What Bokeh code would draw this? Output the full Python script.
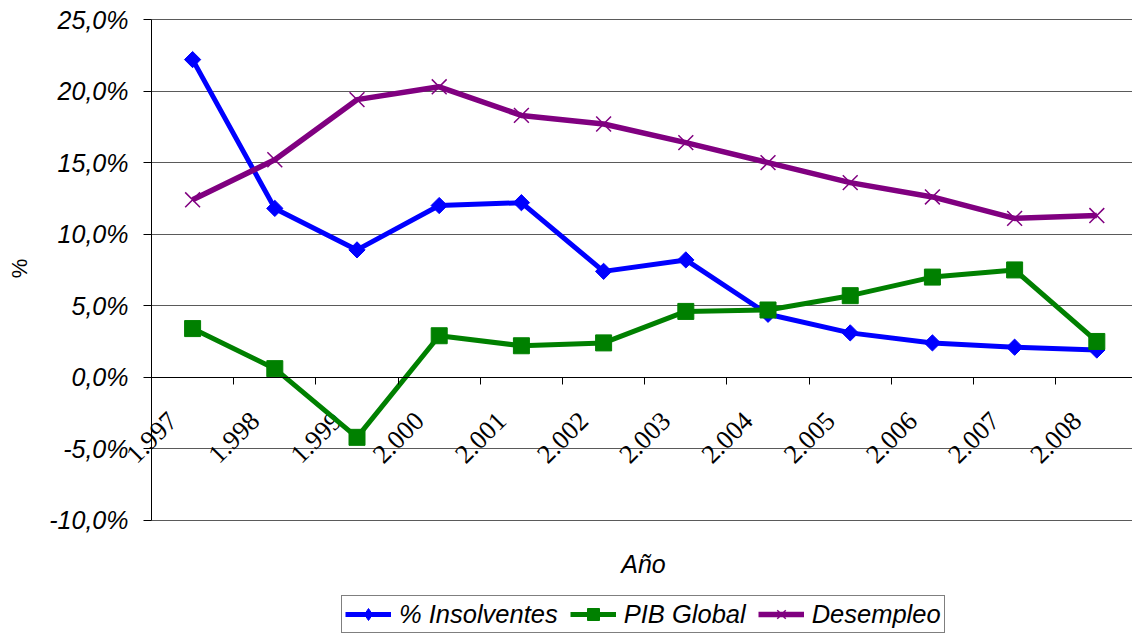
import numpy as np
from bokeh.plotting import figure
from bokeh.models import Range1d, FixedTicker, Legend, LegendItem, Label
from bokeh.embed import file_html
from bokeh.resources import INLINE

# Years (category labels) and the three series, in percent
years = ["1.997", "1.998", "1.999", "2.000", "2.001", "2.002",
         "2.003", "2.004", "2.005", "2.006", "2.007", "2.008"]
insolventes = [22.2, 11.8, 8.9, 12.0, 12.2, 7.4, 8.2, 4.4, 3.1, 2.4, 2.1, 1.9]
pib_global = [3.4, 0.6, -4.2, 2.9, 2.2, 2.4, 4.6, 4.7, 5.7, 7.0, 7.5, 2.5]
desempleo = [12.4, 15.2, 19.4, 20.3, 18.3, 17.7, 16.4, 15.0, 13.6, 12.6, 11.1, 11.3]

y_ticks = [-10, -5, 0, 5, 10, 15, 20, 25]
y_tick_labels = ["-10,0%", "-5,0%", "0,0%", "5,0%", "10,0%", "15,0%", "20,0%", "25,0%"]

FONT = "Liberation Sans"
BLUE, GREEN, PURPLE = "#0000FF", "#008000", "#800080"

x = np.arange(len(years))
boundaries = list(x[:-1] + 0.5)
x_first, x_last = -0.5, len(years) - 0.5

# The frame covers the whole canvas; both axes are pinned inside it so
# that the titles and the legend can be placed freely around the chart.
p = figure(width=1132, height=633,
           x_range=Range1d(-2.337, 11.434), y_range=Range1d(-17.91, 26.33),
           output_backend="svg", toolbar_location=None,
           min_border=0, outline_line_color=None,
           background_fill_color="white")

# horizontal grid, limited to the plotting area
p.xgrid.visible = False
p.ygrid.ticker = FixedTicker(ticks=y_ticks)
p.ygrid.cross_bounds = (x_first, x_last)
p.ygrid.grid_line_color = "#5a5a5a"
p.ygrid.grid_line_width = 1

# y axis
yax = p.yaxis[0]
yax.fixed_location = x_first
yax.bounds = (min(y_ticks), max(y_ticks))
yax.ticker = FixedTicker(ticks=y_ticks)
yax.major_label_overrides = dict(zip(y_ticks, y_tick_labels))
yax.axis_line_color = "black"
yax.major_tick_line_color = "black"
yax.major_tick_out = 8
yax.major_tick_in = 0
yax.minor_tick_out = 0
yax.minor_tick_in = 0
yax.major_label_standoff = 15
yax.major_label_text_font = FONT
yax.major_label_text_font_style = "italic"
yax.major_label_text_font_size = "25px"
yax.major_label_text_color = "black"

# x axis sitting on the zero line, with ticks between the categories
xax = p.xaxis[0]
xax.fixed_location = 0
xax.bounds = (x_first, x_last)
xax.ticker = FixedTicker(ticks=[], minor_ticks=boundaries)
xax.axis_line_color = "black"
xax.major_tick_out = 0
xax.major_tick_in = 0
xax.minor_tick_out = 7
xax.minor_tick_in = 0
xax.minor_tick_line_color = "black"

# slanted year labels under the zero line
p.text(x=x, y=np.zeros(len(x)), text=years, angle=np.pi / 4,
       x_offset=-20, y_offset=39, text_align="right", text_baseline="middle",
       text_font=FONT, text_font_size="26.5px", text_color="black")

# series
l1 = p.line(x, insolventes, line_color=BLUE, line_width=5)
# small diamonds used as the legend key; covered by the rotated squares below
k1 = p.scatter(x, insolventes, marker="diamond", size=9,
               fill_color=BLUE, line_color=BLUE)
m1 = p.scatter(x, insolventes, marker="square", angle=np.pi / 4, size=11.5,
               fill_color=BLUE, line_color=BLUE)
l2 = p.line(x, pib_global, line_color=GREEN, line_width=5)
m2 = p.scatter(x, pib_global, marker="square", size=16,
               fill_color=GREEN, line_color=GREEN)
l3 = p.line(x, desempleo, line_color=PURPLE, line_width=5.5)
m3 = p.scatter(x, desempleo, marker="x", size=21,
               line_color=PURPLE, line_width=1.5)

legend = Legend(items=[
    LegendItem(label="% Insolventes", renderers=[l1, k1]),
    LegendItem(label="PIB Global", renderers=[l2, m2]),
    LegendItem(label="Desempleo", renderers=[l3, m3]),
], location=(341, 0), orientation="horizontal",
    label_text_font=FONT, label_text_font_style="italic",
    label_text_font_size="25.5px", label_text_color="black",
    border_line_color="black", border_line_width=1,
    background_fill_color="white", background_fill_alpha=1,
    padding=3, spacing=12, label_standoff=8, margin=0,
    glyph_width=46, glyph_height=30, label_height=28)
p.add_layout(legend, "center")

p.add_layout(Label(x=643, y=70, x_units="screen", y_units="screen",
                   text="Año", text_font=FONT, text_font_style="italic",
                   text_font_size="25px", text_color="black",
                   text_align="center", text_baseline="middle"))
p.add_layout(Label(x=19, y=365, x_units="screen", y_units="screen",
                   text="%", angle=np.pi / 2, text_font=FONT,
                   text_font_size="22px", text_color="black",
                   text_align="center", text_baseline="middle"))

open("out.html", "w").write(file_html(p, INLINE))
